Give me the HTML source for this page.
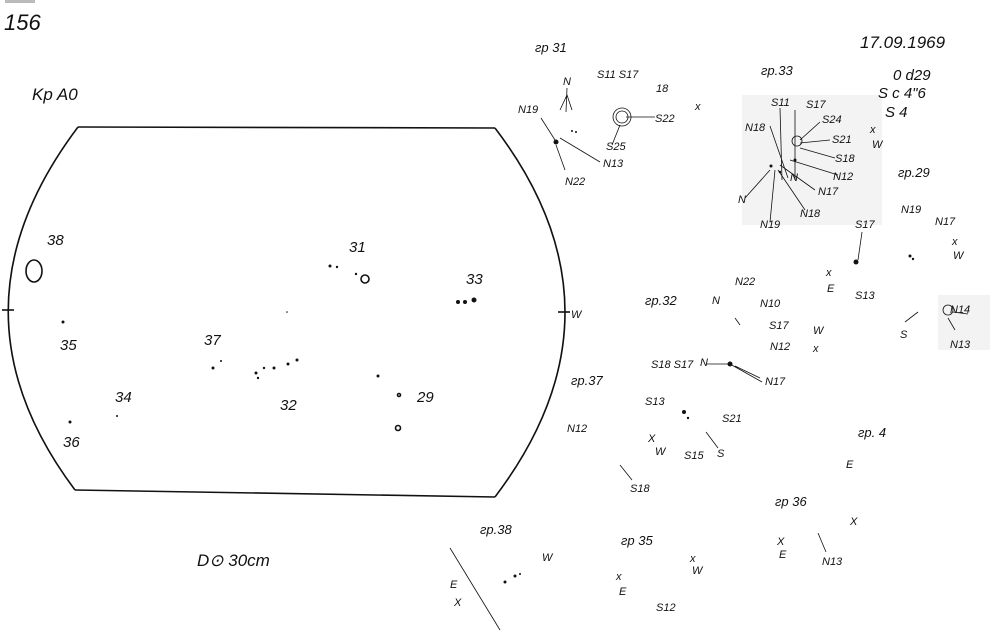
<!DOCTYPE html>
<html><head><meta charset="utf-8"><style>
html,body{margin:0;padding:0;background:#fff;}
svg{display:block;}
text{font-family:"Liberation Sans",sans-serif;font-style:italic;fill:#111;}
</style></head><body>
<svg width="995" height="635" viewBox="0 0 995 635" xmlns="http://www.w3.org/2000/svg">
<rect width="995" height="635" fill="#fff"/>
<rect x="5" y="0" width="30" height="3" fill="#bbb"/>
<rect x="742" y="95" width="140" height="130" fill="#f3f3f3"/>
<rect x="938" y="295" width="52" height="55" fill="#f3f3f3"/>
<g stroke="#111" stroke-width="1.6" fill="none">
<path d="M78,127 L495,128"/>
<path d="M75,490 L495,497"/>
<path d="M78,127 Q-60,310 75,490"/>
<path d="M495,128 Q635,312 495,497"/>
<path d="M2,310 L14,310"/>
<path d="M558,312 L570,312"/>
<ellipse cx="34" cy="271" rx="8" ry="11"/>
<circle cx="365" cy="279" r="4"/>
<circle cx="398" cy="428" r="2.5"/>
<circle cx="399" cy="395" r="1.5"/>
</g>
<g fill="#111">
<circle cx="63" cy="322" r="1.5"/><circle cx="70" cy="422" r="1.5"/><circle cx="117" cy="416" r="1"/>
<circle cx="213" cy="368" r="1.5"/><circle cx="221" cy="361" r="1"/>
<circle cx="256" cy="373" r="1.5"/><circle cx="258" cy="378" r="1.2"/><circle cx="264" cy="368" r="1.2"/><circle cx="274" cy="368" r="1.5"/><circle cx="288" cy="364" r="1.5"/><circle cx="297" cy="360" r="1.5"/>
<circle cx="330" cy="266" r="1.5"/><circle cx="337" cy="267" r="1.2"/><circle cx="356" cy="274" r="1.2"/>
<circle cx="378" cy="376" r="1.5"/><circle cx="287" cy="312" r="0.8"/>
<circle cx="458" cy="302" r="2"/><circle cx="465" cy="302" r="2"/><circle cx="474" cy="300" r="2.5"/>
</g>
<g font-size="22"><text x="4" y="30">156</text></g>
<g font-size="17">
<text x="32" y="100">Kp A0</text>
<text x="860" y="48">17.09.1969</text>
<text x="197" y="566">D⊙  30cm</text>
</g>
<g font-size="15">
<text x="47" y="245">38</text><text x="60" y="350">35</text><text x="115" y="402">34</text><text x="63" y="447">36</text>
<text x="204" y="345">37</text><text x="280" y="410">32</text><text x="349" y="252">31</text><text x="466" y="284">33</text><text x="417" y="402">29</text>
<text x="571" y="318" font-size="11">W</text>
<text x="893" y="80">0 d29</text><text x="878" y="98">S c   4"6</text><text x="885" y="117">S     4</text>
</g>
<g font-size="13">
<text x="535" y="52">гр 31</text><text x="761" y="75">гр.33</text><text x="898" y="177">гр.29</text>
<text x="645" y="305">гр.32</text><text x="571" y="385">гр.37</text><text x="858" y="437">гр. 4</text>
<text x="775" y="506">гр 36</text><text x="621" y="545">гр 35</text><text x="480" y="534">гр.38</text>
</g>
<g font-size="11">
<text x="563" y="85">N</text><text x="597" y="78">S11  S17</text><text x="656" y="92">18</text>
<text x="518" y="113">N19</text><text x="655" y="122">S22</text><text x="695" y="110">x</text>
<text x="603" y="167">N13</text><text x="606" y="150">S25</text><text x="565" y="185">N22</text>
<text x="771" y="106">S11</text><text x="806" y="108">S17</text><text x="822" y="123">S24</text><text x="832" y="143">S21</text><text x="835" y="162">S18</text>
<text x="745" y="131">N18</text><text x="833" y="180">N12</text><text x="818" y="195">N17</text><text x="800" y="217">N18</text><text x="760" y="228">N19</text><text x="738" y="203">N</text><text x="790" y="181">N</text>
<text x="870" y="133">x</text><text x="872" y="148">W</text>
<text x="901" y="213">N19</text><text x="935" y="225">N17</text><text x="855" y="228">S17</text><text x="952" y="245">x</text><text x="953" y="259">W</text>
<text x="826" y="276">x</text><text x="827" y="292">E</text><text x="855" y="299">S13</text>
<text x="712" y="304">N</text><text x="735" y="285">N22</text><text x="760" y="307">N10</text><text x="769" y="329">S17</text><text x="770" y="350">N12</text><text x="813" y="334">W</text><text x="813" y="352">x</text>
<text x="900" y="338">S</text><text x="950" y="313">N14</text><text x="950" y="348">N13</text>
<text x="651" y="368">S18 S17</text><text x="700" y="366">N</text><text x="765" y="385">N17</text>
<text x="645" y="405">S13</text><text x="722" y="422">S21</text><text x="567" y="432">N12</text>
<text x="648" y="442">X</text><text x="655" y="455">W</text><text x="684" y="459">S15</text><text x="717" y="457">S</text>
<text x="630" y="492">S18</text><text x="846" y="468">E</text>
<text x="850" y="525">X</text><text x="777" y="545">X</text><text x="779" y="558">E</text><text x="822" y="565">N13</text>
<text x="690" y="562">x</text><text x="692" y="574">W</text><text x="616" y="580">x</text><text x="619" y="595">E</text><text x="656" y="611">S12</text>
<text x="542" y="561">W</text><text x="450" y="588">E</text><text x="454" y="606">X</text>
</g>
<g stroke="#111" stroke-width="0.8" fill="none">
<path d="M567,88 L566,112 M560,110 L567,95 L572,110"/>
<path d="M541,118 L555,140 M556,145 L565,170 M560,138 L600,162"/>
<circle cx="622" cy="117" r="6"/><circle cx="622" cy="117" r="9"/>
<path d="M626,117 L655,117 M620,125 L612,145"/>
<path d="M780,108 L782,180 M770,126 L788,178 M795,110 L795,180 M820,122 L800,140 M830,140 L800,143 M835,158 L800,148 M838,175 L790,160 M815,190 L780,165 M805,210 L778,170 M770,222 L775,170 M745,198 L770,170"/>
<circle cx="797" cy="141" r="5"/>
<path d="M862,232 L858,260 M918,312 L905,322"/>
<circle cx="948" cy="310" r="5"/><path d="M953,312 L968,314 M948,318 L955,330"/>
<path d="M735,318 L740,325 M707,364 L728,364 M730,364 L762,382 M735,366 L760,378"/>
<path d="M706,432 L718,448 M620,465 L632,480"/>
<path d="M818,533 L826,552"/>
<path d="M450,548 L500,630"/>
</g>
<g fill="#111">
<circle cx="556" cy="142" r="2.5"/><circle cx="576" cy="132" r="1"/><circle cx="572" cy="131" r="1"/>
<circle cx="795" cy="160" r="1.5"/><circle cx="771" cy="166" r="1.5"/><circle cx="780" cy="172" r="1.2"/>
<circle cx="856" cy="262" r="2.5"/><circle cx="910" cy="256" r="1.5"/><circle cx="913" cy="259" r="1.2"/>
<circle cx="730" cy="364" r="2.5"/><circle cx="684" cy="412" r="2"/><circle cx="688" cy="418" r="1.2"/>
<circle cx="505" cy="582" r="1.5"/><circle cx="515" cy="576" r="1.5"/><circle cx="520" cy="574" r="1"/>
</g>
</svg>
</body></html>
